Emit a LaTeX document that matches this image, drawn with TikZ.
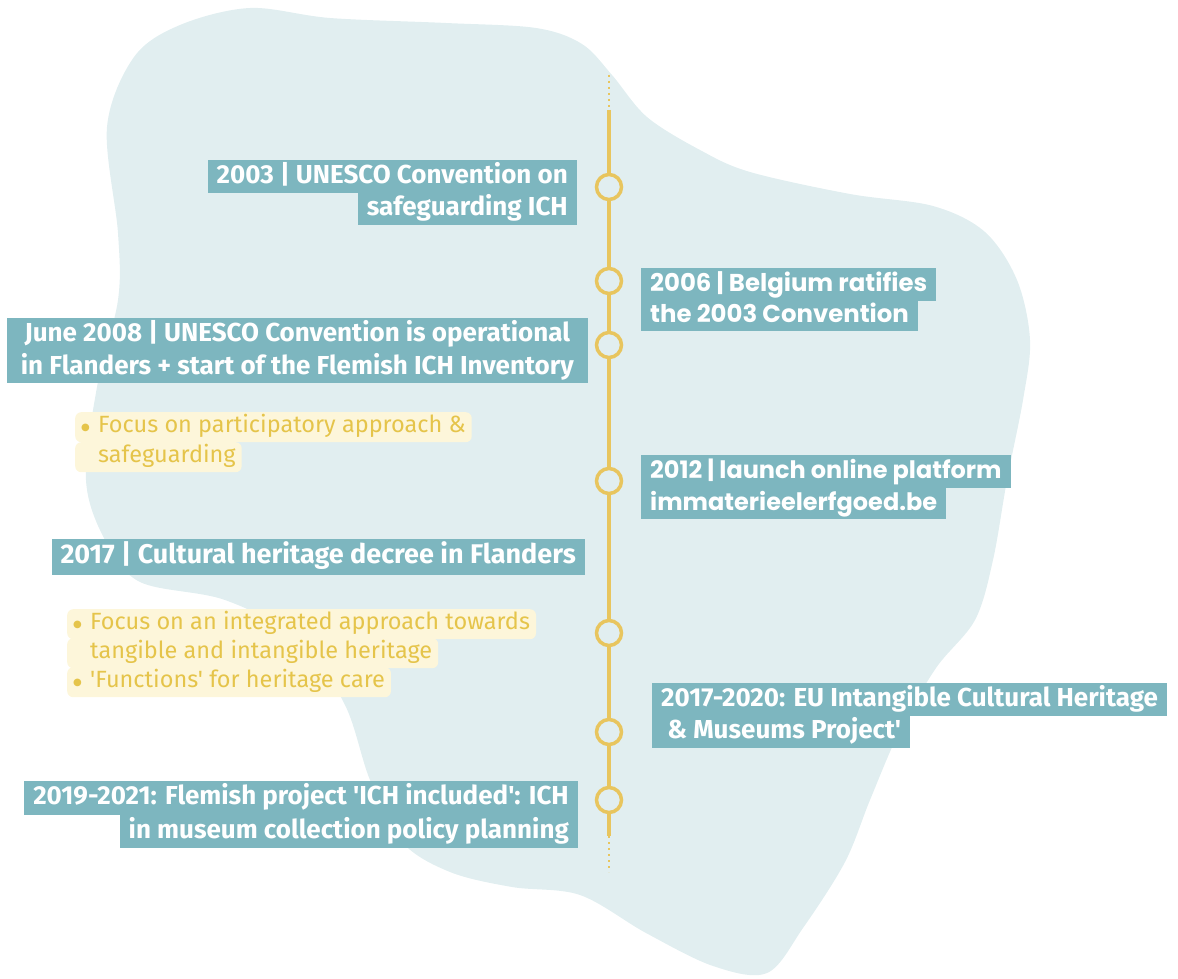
\documentclass[tikz,border=0pt]{standalone}
\usepackage{fontspec}
\newfontfamily\tlfont{Fira Sans}
\newfontfamily\widefont{Poppins}
\newfontfamily\dejavu{DejaVu Sans}
\definecolor{blobc}{HTML}{E1EEF0}
\definecolor{tealc}{HTML}{7DB6BF}
\definecolor{liney}{HTML}{E8C55E}
\definecolor{ybg}{HTML}{FDF6DA}
\definecolor{ytext}{HTML}{E5C44A}
\tikzset{
  tbox/.style={fill=tealc, text=white, inner xsep=9pt, inner ysep=0pt,
    minimum height=33pt, text height=18pt, text depth=5pt,
    font=\tlfont\bfseries\fontsize{26}{30}\selectfont},
  wbox/.style={tbox, font=\widefont\bfseries\fontsize{24.4}{28}\selectfont},
  ybox/.style={fill=ybg, text=ytext, inner xsep=6pt, inner ysep=0pt, rounded corners=6pt,
    minimum height=30pt, text height=16pt, text depth=5pt, anchor=north west,
    font=\tlfont\fontsize{23.5}{27}\selectfont},
  dot/.style={circle, draw=liney, line width=3.5pt, fill=blobc, minimum size=25pt, inner sep=0pt},
  tline/.style={draw=liney, line width=3.5pt},
  tdots/.style={draw=liney, line width=2.5pt, dash pattern=on 2pt off 4pt}
}
\newcommand{\bul}{\makebox[17pt][l]{\raisebox{2pt}{\dejavu\fontsize{10}{10}\selectfont ●}}}
\newcommand{\ind}{\hspace*{17pt}}
\begin{document}
\begin{tikzpicture}[x=1pt,y=-1pt]
\useasboundingbox (0,0) rectangle (1178,979);
% blob
\fill[blobc] plot[smooth cycle, tension=0.55] coordinates {
(250,8) (330,18) (446,23) (536,28) (582,44) (612,75) (647,117) (700,150) (750,172)
(850,194) (933,206) (985,232) (1017,280) (1030,340) (1023,400) (1007,480) (993,560)
(975,620) (936,668) (900,730) (870,800) (845,862) (803,928) (767,973) (713,966)
(646,933) (580,895) (512,887) (450,872) (402,842) (370,780) (345,705) (300,640)
(225,600) (140,582) (105,540) (86,480) (97,387) (118,300) (118,233) (107,127) (134,57) (180,25)};
% timeline
\coordinate (t0) at (609,75);
\coordinate (t1) at (609,110);
\coordinate (t2) at (609,836);
\coordinate (t3) at (609,872);
\node[dot] (c1) at (609,187) {};
\node[dot] (c2) at (609,281) {};
\node[dot] (c3) at (609,345) {};
\node[dot] (c4) at (609,481) {};
\node[dot] (c5) at (609,633) {};
\node[dot] (c6) at (609,732) {};
\node[dot] (c7) at (609,800) {};
\draw[tdots] (t0) -- (t1);
\draw[tdots] (t2) -- (t3);
\draw[tline] (t1) -- (c1);
\draw[tline] (c1) -- (c2);
\draw[tline] (c2) -- (c3);
\draw[tline] (c3) -- (c4);
\draw[tline] (c4) -- (c5);
\draw[tline] (c5) -- (c6);
\draw[tline] (c6) -- (c7);
\draw[tline] (c7) -- (t2);
% events
\node[tbox, anchor=north east] (e1a) at (577,160) {2003 | UNESCO Convention on};
\node[tbox, anchor=north east, minimum height=32pt] (e1b) at (577,193) {safeguarding ICH};
\node[wbox, anchor=north west] (e2a) at (641,268) {2006 | Belgium ratifies};
\node[wbox, anchor=north west, minimum height=31pt] (e2b) at (641,300) {the 2003 Convention};
\node[tbox, anchor=north east, minimum width=581pt, minimum height=34pt] (e3a) at (588,318) {June 2008 | UNESCO Convention is operational};
\node[tbox, anchor=north east, minimum width=581pt, minimum height=31pt] (e3b) at (588,352) {in Flanders + start of the Flemish ICH Inventory};
\node[wbox, anchor=north west, font=\widefont\bfseries\fontsize{24}{28}\selectfont] (e4a) at (641,455) {2012 | launch online platform};
\node[wbox, anchor=north west, minimum height=31pt, font=\widefont\bfseries\fontsize{24}{28}\selectfont] (e4b) at (641,488) {immaterieelerfgoed.be};
\node[tbox, anchor=north east, minimum height=36pt, font=\tlfont\bfseries\fontsize{27}{30}\selectfont] (e5) at (585,539) {2017 | Cultural heritage decree in Flanders};
\node[tbox, anchor=north west] (e6a) at (652,683) {2017-2020: EU Intangible Cultural Heritage};
\node[tbox, anchor=north west, minimum height=32pt] (e6b) at (652,716) {\ \& Museums Project'};
\node[tbox, anchor=north east, minimum height=34pt] (e7a) at (578,781) {2019-2021: Flemish project 'ICH included': ICH};
\node[tbox, anchor=north east] (e7b) at (578,815) {in museum collection policy planning};
% notes
\node[ybox] (n1a) at (75,412) {\bul Focus on participatory approach \&};
\node[ybox] (n1b) at (75,442) {\ind safeguarding};
\node[ybox] (n2a) at (67,609) {\bul Focus on an integrated approach towards};
\node[ybox] (n2b) at (67,638) {\ind tangible and intangible heritage};
\node[ybox] (n2c) at (67,667) {\bul 'Functions' for heritage care};
\end{tikzpicture}
\end{document}
